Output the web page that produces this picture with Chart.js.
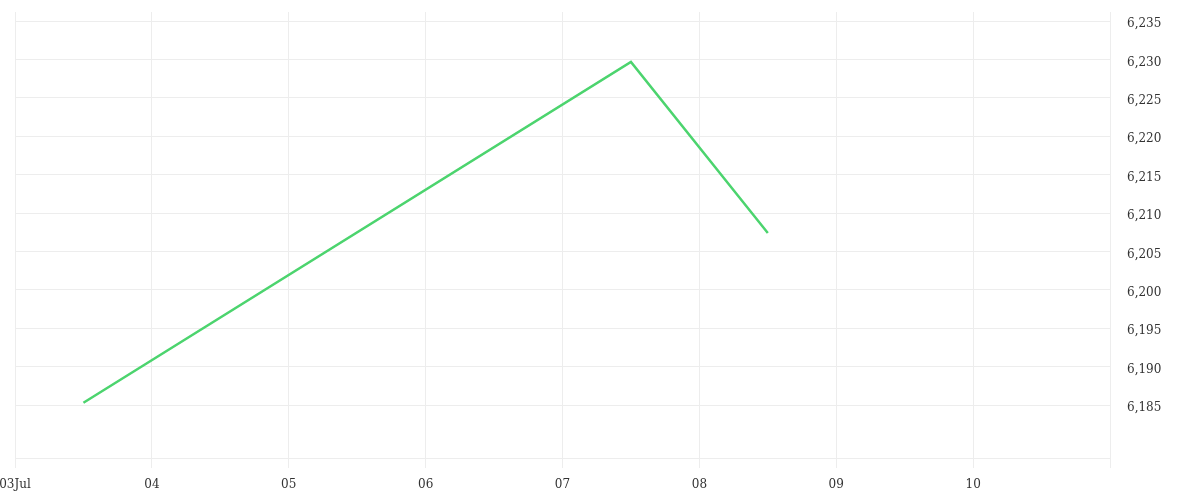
<!DOCTYPE html>
<html>
<head>
<meta charset="utf-8">
<script src="https://cdn.jsdelivr.net/npm/chart.js@4/dist/chart.umd.min.js"></script>
<style>
  html, body { margin: 0; padding: 0; background: #fff; }
  #wrap { width: 1200px; height: 500px; position: relative; }
</style>
</head>
<body>
<div id="wrap"><canvas id="priceChart"></canvas></div>
<script>
'use strict';

// Day of July (12:00 = .5) and closing values
const pointDays   = [3.5, 7.5, 8.5];
const pointValues = [6185.3, 6229.7, 6207.4];

// Axis ticks
const dayTicks    = [3, 4, 5, 6, 7, 8, 9, 10, 11];
const dayLabels   = ['03Jul', '04', '05', '06', '07', '08', '09', '10', ''];
const valueTicks  = [6185, 6190, 6195, 6200, 6205, 6210, 6215, 6220, 6225, 6230, 6235];

const gridColor = '#ededed';
const textColor = '#333333';
const lineColor = '#4cd46e';
const fontFamily = '"DejaVu Serif", serif';

const ctx = document.getElementById('priceChart');

new Chart(ctx, {
    type: 'line',
    data: {
        datasets: [{
            label: 'Price',
            data: pointDays.map(function (d, i) { return { x: d, y: pointValues[i] }; }),
            borderColor: lineColor,
            borderWidth: 2.5,
            pointRadius: 0,
            tension: 0,
            fill: false
        }]
    },
    options: {
        responsive: true,
        maintainAspectRatio: false,
        animation: false,
        layout: { padding: { left: 15, top: 12, right: 0, bottom: 0 } },
        plugins: { legend: { display: false }, tooltip: { enabled: false } },
        scales: {
            x: {
                type: 'linear',
                min: 3,
                max: 11,
                afterBuildTicks: function (scale) {
                    scale.ticks = dayTicks.map(function (v) { return { value: v }; });
                },
                afterFit: function (scale) {
                    scale.height = 42;
                    scale.paddingLeft = 0;
                    scale.paddingRight = 0;
                },
                grid: { color: gridColor, tickLength: 10, drawTicks: true },
                border: { color: gridColor },
                ticks: {
                    color: textColor,
                    font: { family: fontFamily, size: 12 },
                    padding: 10,
                    maxRotation: 0,
                    autoSkip: false,
                    callback: function (value) {
                        const i = dayTicks.indexOf(value);
                        return i >= 0 ? dayLabels[i] : '';
                    }
                }
            },
            y: {
                position: 'right',
                min: 6178.1,
                max: 6236.2,
                afterBuildTicks: function (scale) {
                    scale.ticks = valueTicks.map(function (v) { return { value: v }; });
                },
                afterFit: function (scale) {
                    scale.width = 90;
                    scale.paddingTop = 0;
                    scale.paddingBottom = 0;
                },
                grid: { color: gridColor, drawTicks: false },
                border: { color: gridColor },
                ticks: {
                    color: textColor,
                    font: { family: fontFamily, size: 12 },
                    padding: 17,
                    labelOffset: 3,
                    callback: function (value) { return value.toLocaleString('en-US'); }
                }
            }
        }
    }
});
</script>
</body>
</html>
